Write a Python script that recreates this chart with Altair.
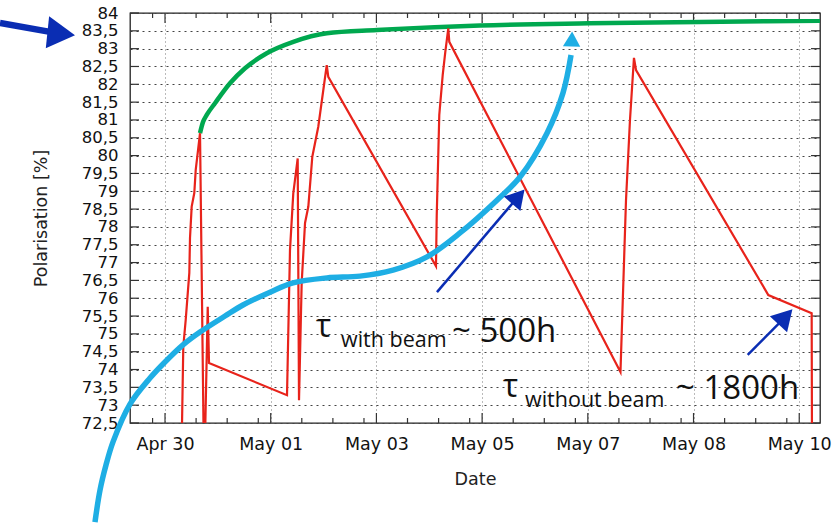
import json
import altair as alt
import pandas as pd

# ---- measured polarisation (red) : days since Apr 30 00:00, polarisation [%]
red_day = [0.519, 0.544, 0.583, 0.641, 0.652, 0.679, 0.721, 0.744, 0.769, 0.813,
           0.872, 0.893, 0.937, 0.958, 2.212, 2.260, 2.313, 2.384, 2.405, 2.448,
           2.502, 2.555, 2.619, 2.715, 2.796, 2.851, 2.876, 4.608, 4.620, 4.661,
           4.716, 4.758, 4.806, 4.822, 7.575, 7.664, 7.728, 7.792, 7.825, 9.953,
           10.650, 10.655]
red_pol = [72.0, 74.64, 75.39, 76.71, 77.69, 78.57, 78.95, 79.60, 79.97, 80.63,
           72.0, 72.0, 75.76, 74.18, 73.28, 77.35, 78.94, 79.92, 73.14, 76.43,
           78.11, 78.57, 79.97, 80.81, 81.84, 82.54, 82.21, 76.90, 78.33, 81.14,
           82.26, 82.91, 83.57, 83.19, 73.93, 78.75, 81.00, 82.74, 82.40, 76.09,
           75.58, 72.0]

# ---- saturation envelope (green)
green_day = [0.813, 0.861, 0.921, 1.054, 1.295, 1.537, 1.886, 2.313, 2.851,
             3.655, 5.316, 7.069, 8.854, 10.784]
green_pol = [80.63, 80.94, 81.14, 81.47, 82.03, 82.45, 82.87, 83.19, 83.43,
             83.52, 83.65, 83.71, 83.75, 83.78]

# ---- axes
x_major = [0.25, 1.95, 3.65, 5.35, 7.05, 8.75, 10.45]
x_labels = ["Apr 30", "May 01", "May 03", "May 05", "May 07", "May 08", "May 10"]
x_minor = [0.05, 0.75, 1.25, 1.75, 2.45, 2.95, 3.45, 4.15, 4.65, 5.15, 5.85,
           6.35, 6.85, 7.55, 8.05, 8.55, 9.25, 9.75, 10.25]
y_ticks = [72.5, 73.0, 73.5, 74.0, 74.5, 75.0, 75.5, 76.0, 76.5, 77.0, 77.5, 78.0,
           78.5, 79.0, 79.5, 80.0, 80.5, 81.0, 81.5, 82.0, 82.5, 83.0, 83.5, 84.0]
y_labels = ["72,5", "73", "73,5", "74", "74,5", "75", "75,5", "76", "76,5", "77",
            "77,5", "78", "78,5", "79", "79,5", "80", "80,5", "81", "81,5", "82",
            "82,5", "83", "83,5", "84"]

# ---- annotations (in data coordinates)
curve_day = [-0.876, -0.795, -0.699, -0.586, -0.313, 0.009, 0.25, 0.539, 0.813,
             1.215, 1.504, 1.939, 2.309, 2.855, 3.386, 3.917, 4.464, 4.994,
             5.589, 5.959, 6.393, 6.651, 6.780]
curve_pol = [69.72, 70.62, 71.32, 71.97, 73.03, 73.76, 74.21, 74.69, 75.05,
             75.50, 75.81, 76.17, 76.43, 76.57, 76.62, 76.79, 77.16, 77.83,
             78.75, 79.40, 80.63, 81.76, 82.82]
curve_head = [6.793, 83.27]

arrow1_day = [4.624, 5.930]
arrow1_pol = [76.17, 78.85]
arrow1_head = [5.932, 78.85]
arrow2_day = [9.621, 10.228]
arrow2_pol = [74.41, 75.48]
arrow2_head = [10.228, 75.48]
arrow0_day = [-2.404, -1.599]
arrow0_pol = [83.72, 83.47]
arrow0_head = [-1.419, 83.42]

text1_tau = [2.678, 74.91]
text1_sub = [3.080, 74.63]
text1_val = [4.866, 74.77]
text2_tau = [5.686, 73.23]
text2_sub = [6.040, 72.95]
text2_val = [8.468, 73.17]

RED = "#e8231b"
GREEN = "#00a84f"
LBLUE = "#1eaee4"
DBLUE = "#0a2db3"

xs = alt.Scale(domain=[-0.313, 10.784], nice=False, zero=False)
ys = alt.Scale(domain=[72.5, 84], nice=False, zero=False)

x_expr = "%s[round((datum.value - 0.25) / 1.7)]" % json.dumps(x_labels)
y_expr = "%s[round((datum.value - 72.5) * 2)]" % json.dumps(y_labels)

XA = alt.Axis(
    values=x_major, labelExpr=x_expr, title="Date", grid=True,
    gridDash=[1, 3], gridColor="#777", gridWidth=1, ticks=False,
    domain=False, labelFont="DejaVu Sans", labelFontSize=17.5,
    labelColor="#111", labelPadding=12, labelOverlap=False,
    titleFont="DejaVu Sans", titleFontSize=17.5, titleFontWeight="normal",
    titleColor="#222", titlePadding=18)
YA = alt.Axis(
    values=y_ticks, labelExpr=y_expr, title="Polarisation [%]", grid=True,
    gridDash=[2, 4], gridColor="#444", gridWidth=1, ticks=False,
    domain=False, labelFont="DejaVu Sans", labelFontSize=16.5,
    labelColor="#111", labelPadding=12, labelOverlap=False,
    titleFont="DejaVu Sans", titleFontSize=17.5, titleFontWeight="normal",
    titleColor="#222", titlePadding=31)

X = alt.X("day:Q", scale=xs, axis=XA)
Y = alt.Y("pol:Q", scale=ys, axis=YA)


def df(xv, yv):
    return pd.DataFrame({"day": xv, "pol": yv, "i": list(range(len(xv)))})


def pt(p):
    return pd.DataFrame({"day": [p[0]], "pol": [p[1]]})


green = alt.Chart(df(green_day, green_pol)).mark_line(
    color=GREEN, strokeWidth=4.5, clip=True, interpolate="monotone"
).encode(x=X, y=Y, order="i:Q")

red = alt.Chart(df(red_day, red_pol)).mark_line(
    color=RED, strokeWidth=2.2, clip=True
).encode(x=X, y=Y, order="i:Q")

# inward tick marks
xmaj = pd.DataFrame({"day": x_major})
xmin = pd.DataFrame({"day": x_minor})
yt = pd.DataFrame({"pol": y_ticks})
tick_col = "#333"
ticks = [
    alt.Chart(xmaj).mark_rule(color=tick_col, strokeWidth=1.2).encode(
        x=X, y=alt.value(410), y2=alt.value(400)),
    alt.Chart(xmaj).mark_rule(color=tick_col, strokeWidth=1.2).encode(
        x=X, y=alt.value(0), y2=alt.value(10)),
    alt.Chart(xmin).mark_rule(color=tick_col, strokeWidth=1.2).encode(
        x=X, y=alt.value(410), y2=alt.value(405)),
    alt.Chart(xmin).mark_rule(color=tick_col, strokeWidth=1.2).encode(
        x=X, y=alt.value(0), y2=alt.value(5)),
    alt.Chart(yt).mark_rule(color=tick_col, strokeWidth=1.2).encode(
        y=Y, x=alt.value(0), x2=alt.value(9)),
    alt.Chart(yt).mark_rule(color=tick_col, strokeWidth=1.2).encode(
        y=Y, x=alt.value(681), x2=alt.value(690)),
]


def line(xv, yv, color, w, interp="linear"):
    return alt.Chart(df(xv, yv)).mark_line(
        color=color, strokeWidth=w, clip=False, strokeCap="butt",
        interpolate=interp
    ).encode(x=X, y=Y, order="i:Q")


def head(p, color, size, angle):
    return alt.Chart(pt(p)).mark_point(
        shape="triangle-up", filled=True, color=color, opacity=1,
        size=size, angle=angle, clip=False, strokeWidth=0
    ).encode(x=X, y=Y)


def text(p, s, font, fs):
    return alt.Chart(pt(p)).mark_text(
        text=s, font=font, fontSize=fs, align="left", baseline="alphabetic",
        color="#111", clip=False
    ).encode(x=X, y=Y)


annot = [
    line(curve_day, curve_pol, LBLUE, 5.5, "catmull-rom"),
    head(curve_head, LBLUE, 300, 2),
    line(arrow1_day, arrow1_pol, DBLUE, 2.5),
    head(arrow1_head, DBLUE, 480, 41),
    line(arrow2_day, arrow2_pol, DBLUE, 2.5),
    head(arrow2_head, DBLUE, 560, 43),
    line(arrow0_day, arrow0_pol, DBLUE, 6.5),
    head(arrow0_head, DBLUE, 1024, 96),
    text(text1_tau, "τ", "Open Sans", 32),
    text(text1_sub, "with beam", "Open Sans", 21.5),
    text(text1_val, "~ 500h", "Open Sans", 33),
    text(text2_tau, "τ", "Open Sans", 32),
    text(text2_sub, "without beam", "Open Sans", 21.5),
    text(text2_val, "~ 1800h", "Open Sans", 33),
]

chart = alt.layer(*ticks, green, red, *annot).properties(
    width=690, height=410,
    padding={"left": 130, "top": 13, "right": 18, "bottom": 102},
    autosize=alt.AutoSizeParams(type="none"),
    background="white",
).configure_view(stroke="#222", strokeWidth=1.3)

chart.save("out.html", embed_options={"renderer": "svg", "actions": False})
